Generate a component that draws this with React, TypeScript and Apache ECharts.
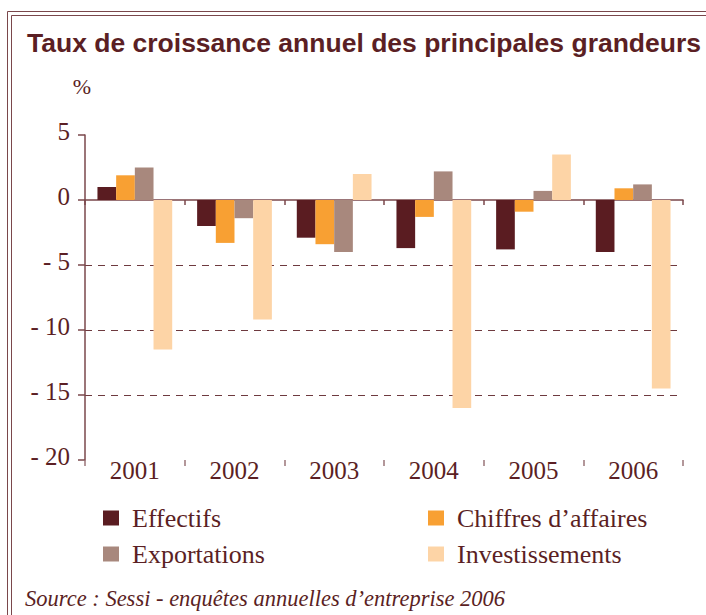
import React, { useEffect, useRef } from "react";
import * as echarts from "echarts";

const years = ["2001", "2002", "2003", "2004", "2005", "2006"];
const effectifs = [1.0, -2.0, -2.9, -3.7, -3.8, -4.0];
const chiffres = [1.9, -3.3, -3.4, -1.3, -0.9, 0.9];
const exportations = [2.5, -1.4, -4.0, 2.2, 0.7, 1.2];
const investissements = [-11.5, -9.2, 2.0, -16.0, 3.5, -14.5];
const seriesNames = ["Effectifs", "Chiffres d\u2019affaires", "Exportations", "Investissements"];
const seriesColors = ["#5a1c21", "#f8a033", "#a8887d", "#fdd4a6"];
const yMin = -20;
const yMax = 5;
const yStep = 5;

const TEXT = "#5b1f24";
const SERIF = "'Liberation Serif', 'Times New Roman', serif";

export default function App() {
  const ref = useRef<HTMLDivElement>(null);
  useEffect(() => {
    if (!ref.current) return;
    const chart = echarts.init(ref.current, undefined, { renderer: "svg" });
    const data = [effectifs, chiffres, exportations, investissements];
    const frame = "#7a474b";
    const legendText = {
      fontFamily: SERIF,
      fontSize: 26,
      color: TEXT,
      lineHeight: 30,
      padding: [0, 0, 0, 8],
    };
    chart.setOption({
      animation: false,
      backgroundColor: "#ffffff",
      title: [
        {
          text: "Taux de croissance annuel des principales grandeurs",
          left: 22,
          top: 24,
          textStyle: {
            fontFamily: "'Liberation Sans', Arial, sans-serif",
            fontWeight: "bold",
            fontSize: 26.5,
            color: TEXT,
          },
        },
        {
          text: "Source : Sessi - enqu\u00eates annuelles d\u2019entreprise 2006",
          left: 20,
          top: 582,
          textStyle: {
            fontFamily: SERIF,
            fontStyle: "italic",
            fontWeight: "normal",
            fontSize: 22.5,
            color: TEXT,
          },
        },
      ],
      legend: [
        {
          data: [seriesNames[0], seriesNames[2]],
          orient: "vertical",
          left: 98,
          top: 498,
          itemWidth: 16,
          itemHeight: 15,
          itemGap: 6,
          icon: "rect",
          textStyle: legendText,
        },
        {
          data: [seriesNames[1], seriesNames[3]],
          orient: "vertical",
          left: 423,
          top: 498,
          itemWidth: 16,
          itemHeight: 15,
          itemGap: 6,
          icon: "rect",
          textStyle: legendText,
        },
      ],
      grid: { left: 85, right: 23, top: 135, bottom: 155, containLabel: false },
      xAxis: [
        {
          type: "category",
          data: years,
          position: "bottom",
          axisLine: { onZero: true, lineStyle: { color: frame, width: 1.5 } },
          axisTick: { show: true, length: 5, lineStyle: { color: frame, width: 1.5 } },
          axisLabel: { show: false },
          splitLine: { show: false },
        },
        {
          type: "category",
          data: years,
          position: "bottom",
          axisLine: { show: false, onZero: false },
          axisTick: { show: true, length: 6, lineStyle: { color: "#9a7478", width: 1.5 } },
          axisLabel: { show: true, margin: -2, fontFamily: SERIF, fontSize: 25, color: TEXT },
          splitLine: { show: false },
        },
      ],
      yAxis: {
        type: "value",
        min: yMin,
        max: yMax,
        interval: yStep,
        name: "%",
        nameLocation: "end",
        nameGap: 38,
        nameTextStyle: { fontFamily: SERIF, fontSize: 22, color: TEXT, align: "center", padding: [0, 6, 0, 0] },
        axisLine: { show: true, lineStyle: { color: frame, width: 1.5 } },
        axisTick: { show: true, length: 7, lineStyle: { color: frame, width: 1.5 } },
        axisLabel: {
          margin: 15,
          fontFamily: SERIF,
          fontSize: 25,
          color: TEXT,
          verticalAlign: "bottom",
          lineHeight: 8,
          formatter: (v: number) => (v < 0 ? "- " + Math.abs(v) : String(v)),
        },
        splitLine: {
          show: true,
          lineStyle: {
            color: ["rgba(0,0,0,0)", "#6e3a3f", "#6e3a3f", "#6e3a3f", "rgba(0,0,0,0)", "rgba(0,0,0,0)"],
            type: [7, 6],
            width: 1.2,
          },
        },
      },
      series: seriesNames.map((name, i) => ({
        name,
        type: "bar",
        data: data[i],
        barGap: "0%",
        barCategoryGap: "25%",
        itemStyle: { color: seriesColors[i] },
        emphasis: { disabled: true },
      })),
      graphic: [
        { type: "line", shape: { x1: 7.5, y1: 11.5, x2: 706, y2: 11.5 }, style: { stroke: frame, lineWidth: 1 } },
        { type: "line", shape: { x1: 7.5, y1: 11.5, x2: 7.5, y2: 615 }, style: { stroke: frame, lineWidth: 1 } },
        { type: "line", shape: { x1: 11.5, y1: 15.5, x2: 706, y2: 15.5 }, style: { stroke: frame, lineWidth: 1 } },
        { type: "line", shape: { x1: 11.5, y1: 15.5, x2: 11.5, y2: 615 }, style: { stroke: frame, lineWidth: 1 } },
      ],
    });
    return () => chart.dispose();
  }, []);
  return (
    <div
      ref={ref}
      style={{ position: "fixed", left: 0, top: 0, width: 706, height: 615, background: "#fff" }}
    />
  );
}
